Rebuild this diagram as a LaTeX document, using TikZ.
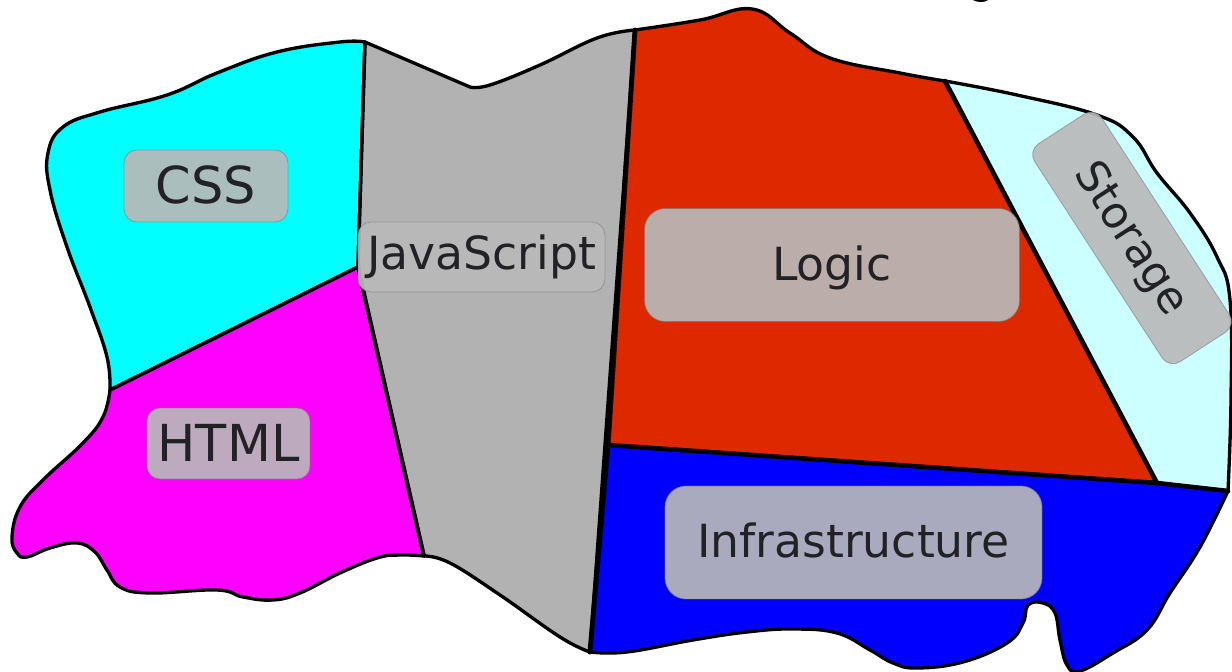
\documentclass[tikz,border=0pt]{standalone}
\usepackage[svgnames]{xcolor}
\usepackage{fontspec}
\setmainfont{DejaVu Sans}
\definecolor{regioncyan}{RGB}{0,255,255}
\definecolor{regionpink}{RGB}{255,0,255}
\definecolor{regionblue}{RGB}{0,0,255}
\definecolor{regionred}{RGB}{222,41,0}
\definecolor{regiongray}{RGB}{178,178,178}
\definecolor{regionice}{RGB}{204,255,255}
\definecolor{tagfill}{RGB}{185,185,185}
\definecolor{tagtext}{RGB}{34,34,38}
\begin{document}
\begin{tikzpicture}[x=.02cm, y=-.02cm,
	region/.style={draw=black, line width=1.9pt, line join=round},
	border/.style={draw=black, line width=2.6pt, line cap=round},
	tagbox/.style={draw=gray, draw opacity=.6, fill=tagfill, fill opacity=.92, text opacity=1, text=tagtext, line width=.5pt, rounded corners=.26cm, inner sep=0pt, text depth=3pt, font=\fontsize{26}{30}\selectfont},
	wide/.style={rounded corners=.42cm}]
	\useasboundingbox (0,0) rectangle (1232,672);
	\coordinate (cssjs) at (365,42);
	\coordinate (csshtml) at (110,390);
	\coordinate (htmljs) at (358,267);
	\coordinate (htmlfoot) at (424,556);
	\coordinate (jslogic) at (635,30);
	\coordinate (jsinfra) at (590,652);
	\coordinate (logicinfra) at (608,445);
	\coordinate (logicstore) at (945,81);
	\coordinate (logicend) at (1157,483);
	\coordinate (storeinfra) at (1228,491);
	\draw[region, fill=regioncyan] plot[smooth, tension=.7] coordinates {(cssjs) (340,42) (277,52) (217,73) (167,95) (100,112) (63,127) (48,153) (50,190) (67,247) (90,307) (107,357) (csshtml)} -- (htmljs) -- cycle;
	\draw[region, fill=regionpink] plot[smooth, tension=.7] coordinates {(csshtml) (103,417) (83,443) (43,480) (20,507) (12,537) (17,553) (27,557) (50,548) (77,543) (95,552) (107,570) (120,587) (150,593) (217,590) (243,597) (273,600) (300,593) (340,573) (377,558) (400,555) (htmlfoot)} -- (htmljs) -- cycle;
	\draw[region, fill=regiongray] (cssjs) -- plot[smooth, tension=.7] coordinates {(470,87) (490,85) (540,65) (597,38) (jslogic)} -- (jsinfra) -- plot[smooth, tension=.7] coordinates {(jsinfra) (560,637) (500,595) (450,563) (htmlfoot)} -- (htmljs) -- cycle;
	\draw[region, fill=regionred] plot[smooth, tension=.7] coordinates {(jslogic) (700,20) (752,9) (790,33) (830,58) (900,73) (logicstore)} -- (logicend) -- (logicinfra) -- cycle;
	\draw[region, fill=regionice] plot[smooth, tension=.7] coordinates {(logicstore) (1017,95) (1097,115) (1133,137) (1157,173) (1190,213) (1217,257) (1230,300) (1231,400) (storeinfra)} -- (logicend) -- cycle;
	\draw[region, fill=regionblue] plot[smooth, tension=.7] coordinates {(storeinfra) (1200,547) (1170,593) (1147,630) (1113,653) (1080,671) (1067,665) (1060,640) (1055,613) (1043,603) (1028,605) (1023,623) (1007,643) (963,662) (917,668) (893,663) (870,650) (837,633) (793,629) (747,632) (693,640) (627,652) (jsinfra)} -- (logicinfra) -- (logicend) -- cycle;
	\draw[border, line width=1.9pt] (cssjs) -- (htmljs) -- (csshtml);
	\draw[border, line width=2.2pt] (htmljs) -- (htmlfoot);
	\draw[border, line width=2.8pt] (jslogic) -- (logicinfra) -- (jsinfra);
	\draw[border] (logicinfra) -- (logicend) -- (storeinfra);
	\draw[border] (logicstore) -- (logicend);
	\draw[line width=1.7pt, line cap=round] (974,-1) .. controls (978,1) and (984,1) .. (987,-1);
	\node[tagbox, text height=22.4pt, minimum width=3.28cm, minimum height=1.44cm] (css) at (206,186) {\fontsize{29}{33}\selectfont CSS};
	\node[tagbox, text height=23pt, minimum width=3.26cm, minimum height=1.42cm] (html) at (228.5,443.5) {\fontsize{29}{33}\selectfont HTML};
	\node[tagbox, text height=17.8pt, minimum width=4.94cm, minimum height=1.4cm] (js) at (481.5,257) {JavaScript};
	\node[tagbox, wide, text height=21.2pt, minimum width=7.5cm, minimum height=2.26cm] (logic) at (832,265) {Logic};
	\node[tagbox, wide, text height=19.6pt, minimum width=7.54cm, minimum height=2.26cm] (infra) at (853.5,542.5) {Infrastructure};
	\node[tagbox, rotate=-57, text height=19pt, minimum width=5.2cm, minimum height=1.6cm] (storage) at (1132,238) {\fontsize{25}{29}\selectfont Storage};
\end{tikzpicture}
\end{document}
